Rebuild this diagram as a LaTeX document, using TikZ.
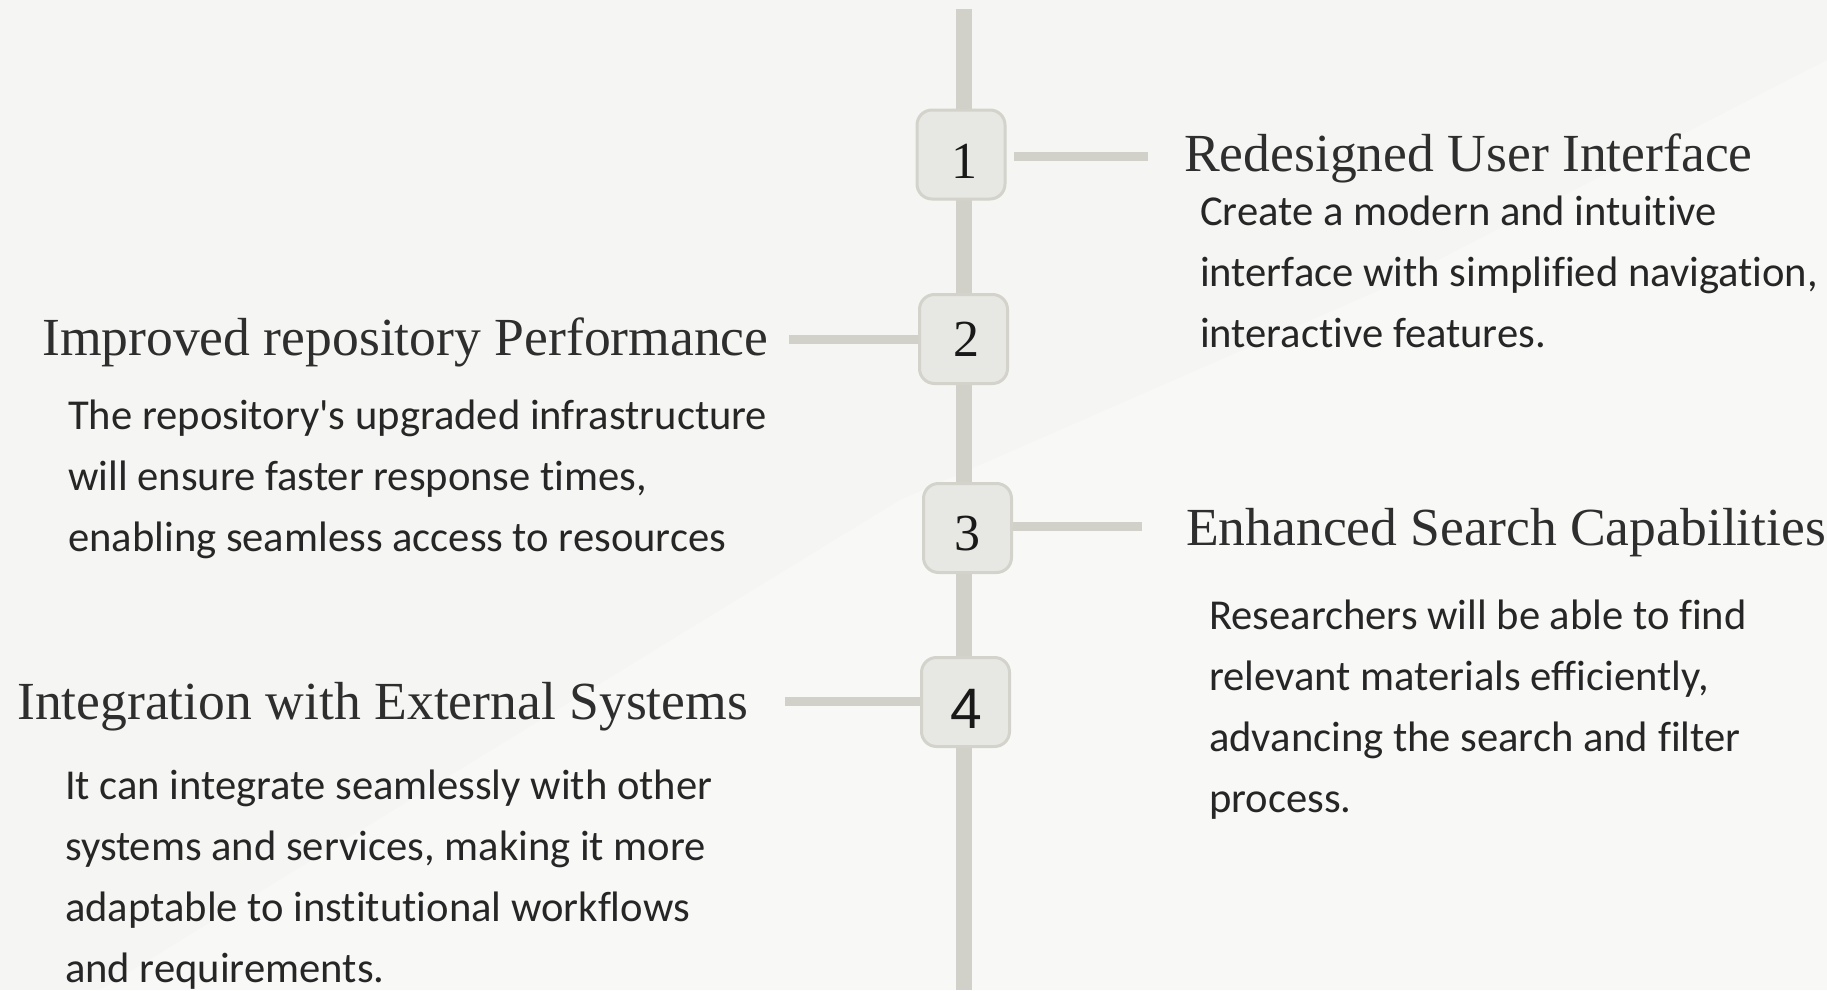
\documentclass[tikz,border=0pt]{standalone}
\usepackage{fontspec}
\setmainfont{Liberation Serif}
\newfontfamily\bodyfont[Ligatures={NoCommon}]{Carlito}
\newfontfamily\sansdigit{Liberation Sans}
\definecolor{bgcol}{HTML}{F5F5F3}
\definecolor{bglight}{HTML}{F8F8F7}
\definecolor{linecol}{HTML}{D1D1C9}
\definecolor{boxfill}{HTML}{E7E8E3}
\definecolor{boxline}{HTML}{D3D3CB}
\definecolor{titlecol}{HTML}{2E2E2E}
\definecolor{bodycol}{HTML}{262626}
\tikzset{
  spine/.style={draw=linecol, line width=16pt},
  conn/.style={draw=linecol, line width=9pt},
  numbox/.style={draw=boxline, fill=boxfill, line width=3pt, rounded corners=15pt,
    minimum width=88pt, minimum height=89pt, inner sep=0pt},
  numtext/.style={anchor=base, inner sep=0pt, text=black!90, font=\fontsize{52}{60}\selectfont},
  title/.style={anchor=base west, inner sep=0pt, text=titlecol, font=\fontsize{53.6}{60}\selectfont},
  body/.style={anchor=base west, inner sep=0pt, text=bodycol, font=\bodyfont\fontsize{42.6}{61}\selectfont}
}
\begin{document}
\begin{tikzpicture}[x=1pt,y=-1pt]
\useasboundingbox (0,0) rectangle (1827,990);
\fill[bgcol] (0,0) rectangle (1827,990);
\fill[bglight] (100,990) -- (1827,990) -- (1827,60) -- (1380,290) -- (900,500) -- cycle;

% spine
\coordinate (top) at (964,9);
\coordinate (bot) at (964,990);
\draw[spine] (top) -- (bot);

% number boxes
\node[numbox] (b1) at (961,154.5) {};
\node[numbox] (b2) at (963.5,339) {};
\node[numbox] (b3) at (967.5,528) {};
\node[numbox] (b4) at (965.5,702) {};

\node[numtext] (d1) at (964,178) {1};
\node[numtext] (d2) at (966,356) {2};
\node[numtext] (d3) at (967,550) {3};
\node[numtext, font=\sansdigit\fontsize{57}{60}\selectfont] (d4) at (966,728) {4};

% connectors
\coordinate (c1) at (1148,156);
\coordinate (c2) at (789,339);
\coordinate (c3) at (1142,526);
\coordinate (c4) at (785,701);
\draw[conn] ([xshift=7pt]b1.east |- c1) -- (c1);
\draw[conn] (c2) -- (b2.west |- c2);
\draw[conn] (b3.east |- c3) -- (c3);
\draw[conn] (c4) -- (b4.west |- c4);

% titles
\node[title] (t1) at (1184,171) {Redesigned User Interface};
\node[title] (t2) at (42,355) {Improved repository Performance};
\node[title] (t3) at (1186,545) {Enhanced Search Capabilities};
\node[title] (t4) at (17,719) {Integration with External Systems};

% bodies
\node[body] (p1) at (1200,225) {\vtop{\hbox{Create a modern and intuitive}\hbox{interface with simplified navigation,}\hbox{interactive features.}}};
\node[body] (p2) at (68,429) {\vtop{\hbox{The repository's upgraded infrastructure}\hbox{will ensure faster response times,}\hbox{enabling seamless access to resources}}};
\node[body] (p3) at (1209,629) {\vtop{\hbox{Researchers will be able to find}\hbox{relevant materials efficiently,}\hbox{advancing the search and filter}\hbox{process.}}};
\node[body] (p4) at (65,799) {\vtop{\hbox{It can integrate seamlessly with other}\hbox{systems and services, making it more}\hbox{adaptable to institutional workflows}\hbox{and requirements.}}};
\end{tikzpicture}
\end{document}
